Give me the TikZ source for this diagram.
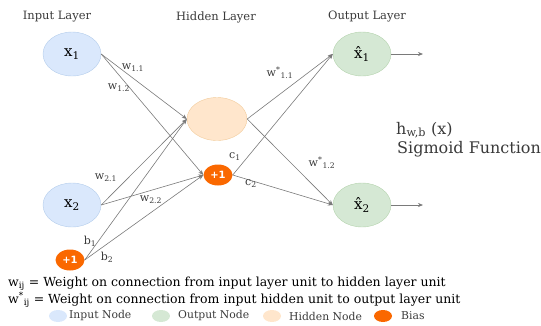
\documentclass[tikz,border=0pt]{standalone}
\usepackage{fontspec}
\setmainfont{DejaVu Serif}
\newfontfamily\biasfont{DejaVu Sans}
\usetikzlibrary{shapes.geometric,arrows.meta}

\definecolor{inblue}{HTML}{DAE8FC}
\definecolor{inblueline}{HTML}{B4CDEB}
\definecolor{outgreen}{HTML}{D5E8D4}
\definecolor{outgreenline}{HTML}{B5D3AE}
\definecolor{hidpeach}{HTML}{FFE6CC}
\definecolor{hidpeachline}{HTML}{F2CC9C}
\definecolor{biasorange}{HTML}{FA6800}
\definecolor{wiregray}{HTML}{7A7A7A}
\definecolor{textgray}{HTML}{3A3A3A}

\tikzset{
  innode/.style={draw=inblueline, fill=inblue, ellipse, minimum width=58pt, minimum height=44pt, inner sep=0pt, font=\fontsize{15}{15}\selectfont},
  outnode/.style={draw=outgreenline, fill=outgreen, ellipse, minimum width=58pt, minimum height=44pt, inner sep=0pt, font=\fontsize{15}{15}\selectfont},
  hidnode/.style={draw=hidpeachline, fill=hidpeach, ellipse, minimum width=60pt, minimum height=43pt},
  biasnode/.style={fill=biasorange, ellipse, minimum width=29pt, minimum height=21pt, inner sep=0pt, text=white, font=\biasfont\bfseries\fontsize{10}{10}\selectfont},
  wire/.style={draw=wiregray, line width=0.6pt, -{Stealth[length=5pt,width=4pt]}},
  wlabel/.style={text=textgray, font=\fontsize{11}{11}\selectfont, inner sep=0pt},
  layertitle/.style={text=textgray, font=\fontsize{11.5}{11.5}\selectfont},
  keydot/.style={ellipse, minimum width=18pt, minimum height=12pt, inner sep=0pt},
  keytext/.style={text=textgray, font=\fontsize{10.8}{10.8}\selectfont, anchor=west, inner sep=0pt},
  legline/.style={text=black, font=\fontsize{12.5}{12.5}\selectfont, anchor=west, inner sep=0pt}
}

\begin{document}
\begin{tikzpicture}[x=1pt, y=-1pt]
  \useasboundingbox (0,0) rectangle (541,325);

  % titres des couches
  \node[layertitle] (intitle) at (57,17) {Input Layer};
  \node[layertitle] (hidtitle) at (216,17) {Hidden Layer};
  \node[layertitle] (outtitle) at (367,17) {Output Layer};

  % neurones
  \node[innode] (x1) at (72,54) {x\textsubscript{1}};
  \node[innode] (x2) at (72,205) {x\textsubscript{2}};
  \node[biasnode] (b) at (70,260) {+1};
  \node[hidnode] (h) at (217,119) {};
  \node[biasnode] (hb) at (218,175) {+1};
  \node[outnode] (y1) at (362,54) {\^{x}\textsubscript{1}};
  \node[outnode] (y2) at (362,205) {\^{x}\textsubscript{2}};
  \coordinate (o1) at (423,54);
  \coordinate (o2) at (423,205);

  % connexions
  \draw[wire] (x1.east) -- (h.west);
  \draw[wire] (x1.east) -- (hb.west);
  \draw[wire] (x2.east) -- (h.west);
  \draw[wire] (x2.east) -- (hb.west);
  \draw[wire] (b.east) -- (h.west);
  \draw[wire] (b.east) -- (hb.west);
  \draw[wire] (h.east) -- (y1.west);
  \draw[wire] (h.east) -- (y2.west);
  \draw[wire] (hb.east) -- (y1.west);
  \draw[wire] (hb.east) -- (y2.west);
  \draw[wire] (y1.east) -- (o1);
  \draw[wire] (y2.east) -- (o2);

  % poids
  \node[wlabel] (w11) at (133,68) {w\textsubscript{1.1}};
  \node[wlabel] (w12) at (119,88) {w\textsubscript{1.2}};
  \node[wlabel] (w21) at (106,178) {w\textsubscript{2.1}};
  \node[wlabel] (w22) at (151,200) {w\textsubscript{2.2}};
  \node[wlabel] (b1) at (90,241) {b\textsubscript{1}};
  \node[wlabel] (b2) at (107,257) {b\textsubscript{2}};
  \node[wlabel] (c1) at (235,157) {c\textsubscript{1}};
  \node[wlabel] (c2) at (251,184) {c\textsubscript{2}};
  \node[wlabel] (ws11) at (280,73) {w\textsuperscript{*}\textsubscript{1.1}};
  \node[wlabel] (ws12) at (322,163) {w\textsuperscript{*}\textsubscript{1.2}};

  % fonction
  \node[text=textgray, font=\fontsize{16}{16}\selectfont, anchor=west, inner sep=0pt] (hwb) at (396,130) {h\textsubscript{w,b} (x)};
  \node[text=textgray, font=\fontsize{16}{16}\selectfont, anchor=west, inner sep=0pt] (sig) at (397,149) {Sigmoid Function};

  % legende
  \node[legline] (leg1) at (8,284) {w\textsubscript{ij} = Weight on connection from input layer unit to hidden layer unit};
  \node[legline] (leg2) at (8,300) {w\textsuperscript{*}\textsubscript{ij} = Weight on connection from input hidden unit to output layer unit};
  \node[keydot, fill=inblue] (kin) at (58,316) {};
  \node[keytext] (kintext) at (69,316) {Input Node};
  \node[keydot, fill=outgreen] (kout) at (161,316) {};
  \node[keytext] (kouttext) at (178,316) {Output Node};
  \node[keydot, fill=hidpeach] (khid) at (272,316) {};
  \node[keytext] (khidtext) at (289,316) {Hidden Node};
  \node[keydot, fill=biasorange] (kbias) at (383,316) {};
  \node[keytext] (kbiastext) at (401,316) {Bias};
\end{tikzpicture}
\end{document}
